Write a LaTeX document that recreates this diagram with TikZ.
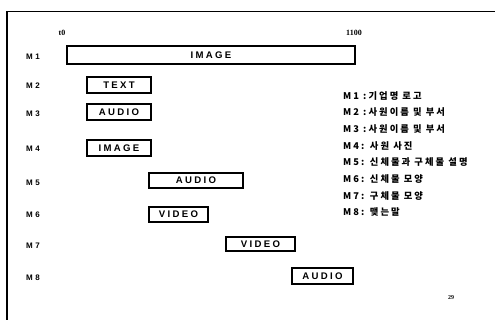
\documentclass[tikz,border=0pt]{standalone}
\usepackage{fontspec}
\setmainfont{Liberation Sans}
\newfontfamily\boxfont[LetterSpace=24]{Liberation Sans}
\newfontfamily\numfont{Liberation Serif}
\newfontfamily\krfont[LetterSpace=22]{Noto Sans CJK KR}
\begin{document}
\begin{tikzpicture}[x=1pt,y=-1pt,
  bx/.style={draw=black, line width=1.6pt, inner sep=0pt, font=\boxfont\bfseries\fontsize{9.6}{10}\selectfont},
  lbl/.style={inner sep=0pt, font=\bfseries\fontsize{8}{9}\selectfont},
  axis/.style={inner sep=0pt, font=\numfont\bfseries\fontsize{8}{9}\selectfont},
  leg/.style={anchor=west, inner sep=0pt, font=\krfont\bfseries\fontsize{9.3}{10}\selectfont},
  frame/.style={line width=1.4pt}]
\useasboundingbox (0,0) rectangle (495,320);
% frame
\coordinate (ftr) at (495,11.5);
\coordinate (ftl) at (7,11.5);
\coordinate (fbl) at (7,320);
\draw[frame] (ftr) -- (ftl) -- (fbl);
% axis labels
\node[axis] (t0) at (62,33) {t0};
\node[axis] (t1100) at (354,33) {1100};
% row labels
\node[lbl] (l1) at (33,57) {M\,\,1};
\node[lbl] (l2) at (33,86) {M\,\,2};
\node[lbl] (l3) at (33,114) {M\,\,3};
\node[lbl] (l4) at (33,149) {M\,\,4};
\node[lbl] (l5) at (33,183) {M\,\,5};
\node[lbl] (l6) at (33,215) {M\,\,6};
\node[lbl] (l7) at (33,246) {M\,\,7};
\node[lbl] (l8) at (33,278) {M\,\,8};
% boxes
\node[bx, minimum width=288pt, minimum height=18pt] (b1) at (211,55) {IMAGE};
\node[bx, minimum width=64pt, minimum height=16pt] (b2) at (119,85) {TEXT};
\node[bx, minimum width=64pt, minimum height=16pt] (b3) at (119,112) {AUDIO};
\node[bx, minimum width=64pt, minimum height=16pt] (b4) at (119,148) {IMAGE};
\node[bx, minimum width=94pt, minimum height=15pt] (b5) at (196,180.5) {AUDIO};
\node[bx, minimum width=59pt, minimum height=15pt] (b6) at (178.5,214.5) {VIDEO};
\node[bx, minimum width=69pt, minimum height=14pt] (b7) at (260.5,244) {VIDEO};
\node[bx, minimum width=61pt, minimum height=16pt] (b8) at (322.5,276) {AUDIO};
% legend
\node[leg] (g1) at (343,96) {M1 :기업명 로고};
\node[leg] (g2) at (343,112.5) {M2 :사원이름 및 부서};
\node[leg] (g3) at (343,129) {M3 :사원이름 및 부서};
\node[leg] (g4) at (343,146) {M4: 사원 사진};
\node[leg] (g5) at (343,162.5) {M5: 신체물과 구체물 설명};
\node[leg] (g6) at (343,179.5) {M6: 신체물 모양};
\node[leg] (g7) at (343,196) {M7: 구체물 모양};
\node[leg] (g8) at (343,212.5) {M8: 맺는말};
% page number
\node[axis, font=\numfont\bfseries\fontsize{6}{7}\selectfont] (pg) at (451,298) {29};
\end{tikzpicture}
\end{document}
